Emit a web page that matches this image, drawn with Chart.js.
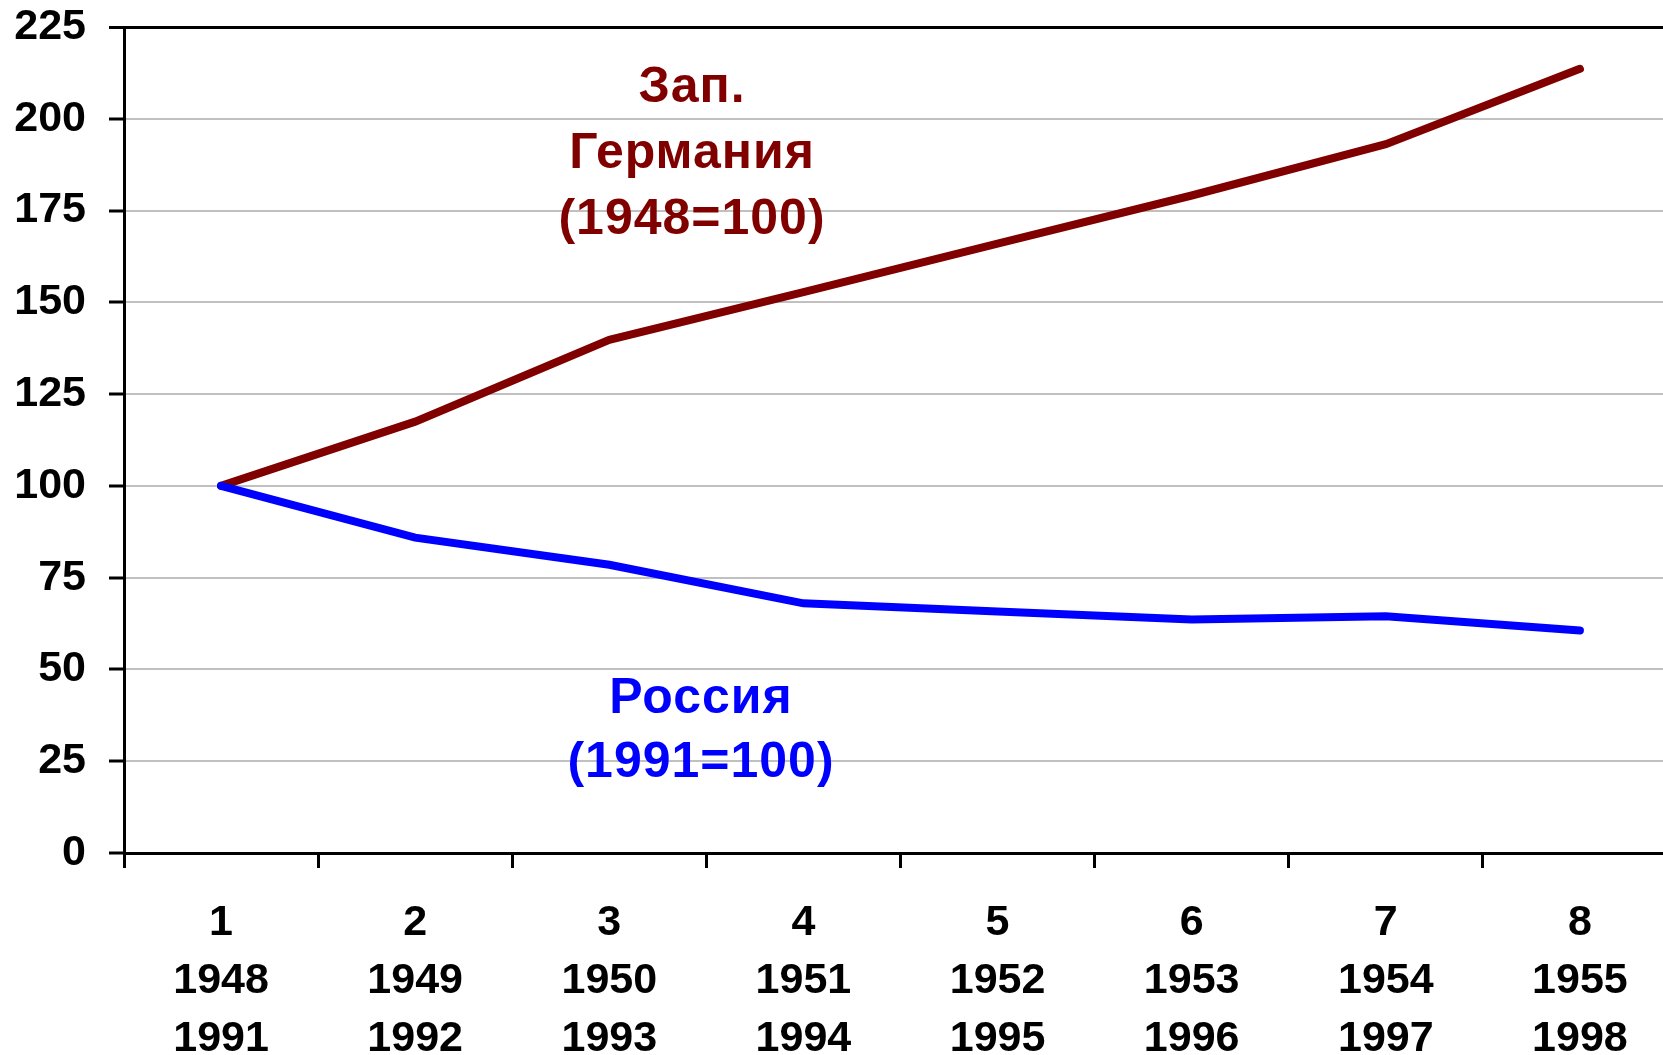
<!DOCTYPE html>
<html>
<head>
<meta charset="utf-8">
<script src="https://cdn.jsdelivr.net/npm/chart.js@4.4.1/dist/chart.umd.min.js"></script>
<style>
  html, body { margin: 0; padding: 0; background: #ffffff; overflow: hidden; }
  #wrap { width: 1677px; height: 1055px; }
</style>
</head>
<body>
<div id="wrap"><canvas id="c" width="1677" height="1055"></canvas></div>
<script>
// ---- data ----
const stepNumbers = ['1', '2', '3', '4', '5', '6', '7', '8'];
const germanyYears = ['1948', '1949', '1950', '1951', '1952', '1953', '1954', '1955'];
const russiaYears = ['1991', '1992', '1993', '1994', '1995', '1996', '1997', '1998'];
const germanyValues = [100, 117.5, 139.8, 152.8, 166.0, 179.1, 193.1, 213.6];
const russiaValues = [100, 85.9, 78.5, 68.0, 65.8, 63.6, 64.5, 60.6];
const yTicks = [0, 25, 50, 75, 100, 125, 150, 175, 200, 225];
const germanyLabel = ['Зап.', 'Германия', '(1948=100)'];
const russiaLabel = ['Россия', '(1991=100)'];

const categoryLabels = stepNumbers.map((n, i) => [n, germanyYears[i], russiaYears[i]]);

const FONT = '"Liberation Sans", Arial, Helvetica, sans-serif';
const GER_COLOR = '#800000';
const RUS_COLOR = '#0000FF';

const seriesText = {
  id: 'seriesText',
  afterDatasetsDraw(chart) {
    const ctx = chart.ctx;
    ctx.save();
    ctx.font = 'bold 50px ' + FONT;
    try { ctx.letterSpacing = '1px'; } catch (e) {}
    ctx.textAlign = 'center';
    ctx.textBaseline = 'alphabetic';
    ctx.fillStyle = GER_COLOR;
    const gy = [102, 168, 234];
    germanyLabel.forEach((t, i) => ctx.fillText(t, 692, gy[i]));
    ctx.fillStyle = RUS_COLOR;
    const ry = [713, 777];
    russiaLabel.forEach((t, i) => ctx.fillText(t, 701, ry[i]));
    ctx.restore();
  }
};

new Chart(document.getElementById('c'), {
  type: 'line',
  data: {
    labels: categoryLabels,
    datasets: [
      {
        label: 'Зап. Германия (1948=100)',
        data: germanyValues,
        borderColor: GER_COLOR,
        backgroundColor: GER_COLOR,
        borderWidth: 8,
        borderCapStyle: 'round',
        borderJoinStyle: 'miter',
        pointRadius: 0,
        tension: 0,
        fill: false,
        order: 2
      },
      {
        label: 'Россия (1991=100)',
        data: russiaValues,
        borderColor: RUS_COLOR,
        backgroundColor: RUS_COLOR,
        borderWidth: 8,
        borderCapStyle: 'round',
        borderJoinStyle: 'miter',
        pointRadius: 0,
        tension: 0,
        fill: false,
        order: 1
      }
    ]
  },
  options: {
    responsive: false,
    animation: false,
    layout: { padding: { top: 0, left: 0, right: 0, bottom: 0 } },
    plugins: {
      legend: { display: false },
      tooltip: { enabled: false },
      title: { display: false }
    },
    scales: {
      x: {
        type: 'category',
        offset: true,
        grid: {
          offset: true,
          drawOnChartArea: false,
          drawTicks: true,
          tickLength: 15,
          tickWidth: 3,
          tickColor: '#000000'
        },
        border: { display: true, color: '#000000', width: 3 },
        ticks: {
          color: '#000000',
          padding: 26,
          maxRotation: 0,
          autoSkip: false,
          font: { family: FONT, size: 43, weight: 'bold', lineHeight: 1.35 }
        },
        afterFit(scale) {
          scale.height = 202;
          scale.paddingLeft = 0;
          scale.paddingRight = 0;
        }
      },
      y: {
        min: 0,
        max: 225,
        afterBuildTicks(scale) {
          scale.ticks = yTicks.map(v => ({ value: v }));
        },
        grid: {
          color: ctx => (ctx.tick && ctx.tick.value === 225) ? '#000000' : '#c0c0c0',
          lineWidth: ctx => (ctx.tick && ctx.tick.value === 225) ? 3 : 2,
          drawTicks: true,
          tickLength: 15,
          tickWidth: 3,
          tickColor: '#000000'
        },
        border: { display: true, color: '#000000', width: 3 },
        ticks: {
          color: '#000000',
          padding: 23,
          font: { family: FONT, size: 43, weight: 'bold', lineHeight: 1.2 }
        },
        afterFit(scale) {
          scale.width = 124;
          scale.paddingTop = 27;
          scale.paddingBottom = 0;
        }
      }
    }
  },
  plugins: [seriesText]
});
</script>
</body>
</html>
